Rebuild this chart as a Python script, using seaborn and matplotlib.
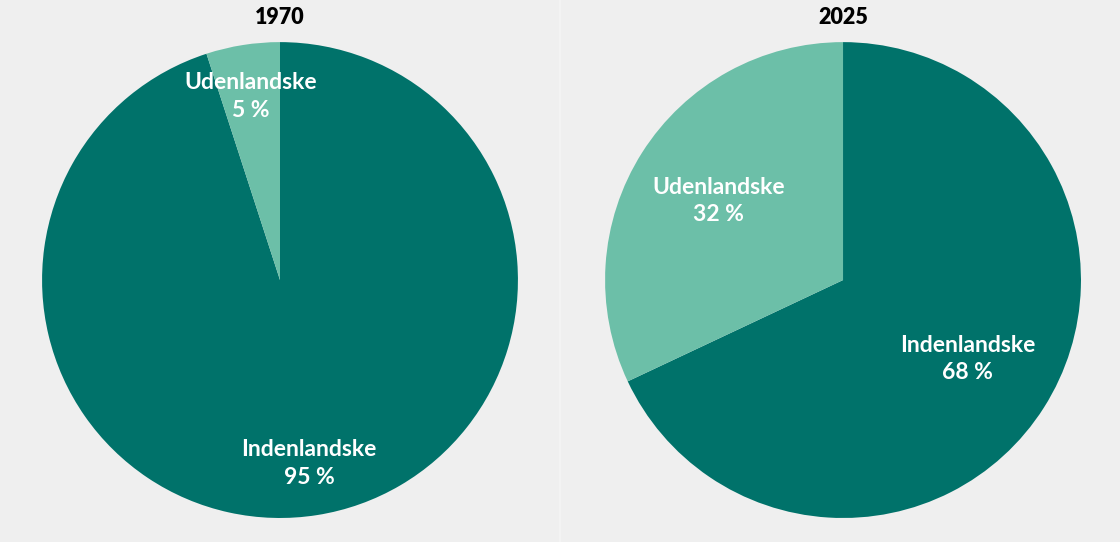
import matplotlib
matplotlib.use("Agg")
import matplotlib.pyplot as plt
import seaborn as sns
from matplotlib.lines import Line2D

# Data
years = ["1970", "2025"]
categories = ["Indenlandske", "Udenlandske"]
shares_1970 = [95, 5]
shares_2025 = [68, 32]

colors = ["#00726a", "#6cbfa8"]
bg = "#efefef"

sns.set_theme(style="white")
plt.rcParams["font.family"] = ["Lato", "DejaVu Sans"]

fig = plt.figure(figsize=(11.2, 5.42), dpi=100, facecolor=bg)

# faint divider between the two panels
fig.add_artist(Line2D([0.5, 0.5], [0, 1], transform=fig.transFigure,
                      color="#f3f3f3", lw=1.5))

boxes = [[0.0375, 0.0443, 0.425, 0.878], [0.5402, 0.0443, 0.425, 0.878]]
label_dist = [0.78, 0.62]

for box, year, shares, dist in zip(boxes, years, [shares_1970, shares_2025], label_dist):
    ax = fig.add_axes(box)
    ax.set_facecolor(bg)
    wedges, texts = ax.pie(shares, colors=colors, startangle=90, counterclock=False,
                           labels=[f"{c}\n{v} %" for c, v in zip(categories, shares)],
                           labeldistance=dist, radius=1,
                           wedgeprops=dict(linewidth=0))
    for t in texts:
        t.set_ha("center")
        t.set_va("center")
        t.set_color("white")
        t.set_fontsize(16.5)
        t.set_fontweight("bold")
        t.set_linespacing(1.4)
    ax.set_xlim(-1, 1)
    ax.set_ylim(-1, 1)
    ax.set_aspect("equal")
    ax.axis("off")
    cx = box[0] + box[2] / 2
    fig.text(cx, 1 - 17 / 542, year, ha="center", va="center",
             fontsize=15.5, fontweight="heavy", color="black")

fig.savefig("out.png", dpi=100, facecolor=bg)
